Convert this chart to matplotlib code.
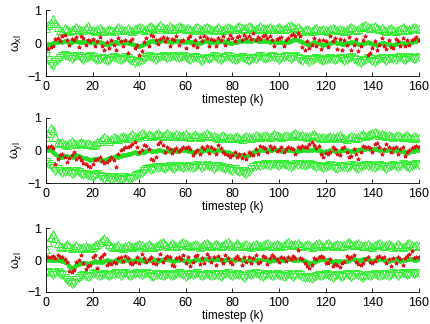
import numpy as np
import matplotlib
matplotlib.use("Agg")
import matplotlib.pyplot as plt

# axis labels and ticks
ylabels = [r"$\omega_{\mathrm{xl}}$", r"$\omega_{\mathrm{yl}}$", r"$\omega_{\mathrm{zl}}$"]
xlabel = "timestep (k)"
xticks = [0, 20, 40, 60, 80, 100, 120, 140, 160]
yticks = [-1, 0, 1]

# ---- x component ----
est_x = [-0.05,-0.04,-0.02,0.00,0.02,0.03,0.05,0.04,0.06,0.05,0.04,0.03,0.05,0.06,0.04,0.03,0.02,0.04,0.05,0.03,
         0.02,0.01,0.03,0.02,0.00,-0.02,-0.04,-0.03,0.00,0.02,0.03,0.01,0.02,0.04,0.03,0.01,0.00,-0.03,-0.06,-0.08,
         -0.10,-0.07,-0.03,0.00,0.03,0.05,0.06,0.04,0.05,0.07,0.08,0.06,0.05,0.04,0.03,0.05,0.06,0.07,0.05,0.04,
         0.03,0.05,0.04,0.02,0.00,-0.01,0.01,0.03,0.05,0.06,0.04,0.03,0.02,0.04,0.03,0.05,0.06,0.04,0.02,0.01,
         0.00,0.02,0.04,0.05,0.06,0.08,0.07,0.05,0.06,0.08,0.09,0.07,0.06,0.05,0.07,0.06,0.04,0.05,0.03,0.02,
         0.04,0.03,0.01,0.02,0.04,0.06,0.09,0.11,0.08,0.05,0.02,-0.01,-0.03,-0.02,0.00,0.02,0.01,-0.01,-0.03,-0.05,
         -0.04,-0.02,0.00,0.02,0.03,0.01,-0.01,-0.03,-0.02,0.00,0.01,0.03,0.02,0.00,-0.02,-0.03,-0.01,0.01,0.02,0.00,
         -0.02,-0.04,-0.05,-0.03,-0.01,0.00,-0.02,-0.04,-0.06,-0.05,-0.03,-0.01,0.01,0.00,-0.02,-0.01,0.01,0.03,0.05,0.06,
         0.08]
meas_x = [-0.15,-0.18,-0.12,-0.10,0.12,0.15,0.05,0.20,0.25,0.10,-0.05,0.12,0.08,0.18,-0.12,0.20,0.15,-0.05,0.10,0.05,
          0.12,-0.08,0.05,0.18,-0.10,-0.22,0.02,-0.15,0.10,-0.05,-0.20,0.15,0.05,-0.10,0.08,-0.30,0.05,0.12,-0.15,-0.05,
          -0.35,-0.25,0.02,0.15,-0.10,0.25,0.20,0.10,-0.02,0.12,0.18,0.05,0.15,-0.08,0.12,0.08,0.20,-0.05,0.05,0.10,
          -0.15,0.15,0.20,-0.05,0.10,-0.12,0.18,0.05,0.22,0.15,-0.10,0.12,0.08,-0.08,0.15,0.10,0.20,-0.05,0.12,0.25,
          0.15,0.05,0.18,0.22,0.10,0.25,0.15,0.20,0.12,0.30,0.08,0.18,0.12,0.22,0.25,0.15,0.20,0.10,-0.10,0.12,
          0.15,0.18,-0.08,0.10,0.15,0.25,0.28,0.22,0.30,0.20,-0.12,-0.20,0.05,-0.15,-0.05,0.15,-0.10,0.08,-0.18,0.10,
          0.05,-0.12,0.20,0.05,0.15,-0.18,0.12,-0.20,0.10,-0.05,0.18,-0.22,-0.05,0.12,-0.25,-0.10,0.08,0.20,-0.35,-0.30,
          -0.15,0.05,-0.20,-0.05,0.15,-0.10,-0.18,0.10,-0.12,-0.15,0.12,0.05,-0.08,0.15,-0.10,0.08,-0.05,0.10,0.12,0.18,
          0.10]
up_x = [0.45,0.55,0.62,0.72,0.60,0.48,0.40,0.38,0.45,0.42,0.38,0.40,0.44,0.50,0.42,0.39,0.41,0.46,0.52,0.44,
        0.40,0.38,0.42,0.47,0.41,0.36,0.39,0.44,0.40,0.37,0.42,0.48,0.43,0.39,0.41,0.45,0.40,0.38,0.42,0.46,
        0.50,0.45,0.40,0.43,0.48,0.52,0.46,0.42,0.50,0.56,0.48,0.44,0.47,0.51,0.45,0.42,0.46,0.53,0.49,0.45,
        0.43,0.47,0.42,0.40,0.45,0.49,0.44,0.41,0.46,0.50,0.45,0.42,0.40,0.44,0.48,0.43,0.41,0.45,0.50,0.46,
        0.42,0.44,0.48,0.53,0.47,0.43,0.46,0.51,0.48,0.44,0.42,0.47,0.52,0.46,0.43,0.45,0.49,0.44,0.42,0.46,
        0.48,0.44,0.42,0.47,0.52,0.56,0.50,0.45,0.48,0.42,0.38,0.40,0.44,0.41,0.38,0.42,0.46,0.41,0.39,0.43,
        0.40,0.38,0.43,0.47,0.42,0.39,0.44,0.40,0.37,0.41,0.46,0.50,0.44,0.40,0.43,0.48,0.53,0.56,0.50,0.45,
        0.48,0.52,0.47,0.43,0.46,0.41,0.38,0.42,0.45,0.40,0.37,0.40,0.44,0.48,0.42,0.39,0.43,0.47,0.50,0.45,
        0.42]
low_x = [-0.40,-0.52,-0.62,-0.68,-0.58,-0.50,-0.44,-0.40,-0.36,-0.39,-0.43,-0.47,-0.42,-0.38,-0.40,-0.45,-0.50,-0.46,-0.41,-0.38,
         -0.42,-0.47,-0.52,-0.48,-0.44,-0.49,-0.55,-0.50,-0.45,-0.41,-0.44,-0.48,-0.52,-0.47,-0.43,-0.46,-0.51,-0.55,-0.60,-0.54,
         -0.56,-0.52,-0.47,-0.43,-0.40,-0.42,-0.46,-0.50,-0.45,-0.41,-0.39,-0.42,-0.46,-0.43,-0.40,-0.38,-0.41,-0.45,-0.42,-0.40,
         -0.43,-0.47,-0.51,-0.46,-0.42,-0.45,-0.50,-0.54,-0.49,-0.45,-0.48,-0.44,-0.40,-0.43,-0.47,-0.51,-0.46,-0.42,-0.39,-0.43,
         -0.47,-0.52,-0.48,-0.44,-0.41,-0.45,-0.49,-0.53,-0.48,-0.44,-0.47,-0.43,-0.40,-0.44,-0.48,-0.45,-0.41,-0.38,-0.42,-0.46,
         -0.50,-0.46,-0.42,-0.39,-0.43,-0.47,-0.43,-0.40,-0.44,-0.49,-0.53,-0.48,-0.52,-0.56,-0.51,-0.47,-0.44,-0.48,-0.52,-0.55,
         -0.51,-0.47,-0.44,-0.48,-0.52,-0.49,-0.45,-0.49,-0.54,-0.50,-0.46,-0.43,-0.47,-0.51,-0.56,-0.60,-0.54,-0.50,-0.46,-0.49,
         -0.53,-0.57,-0.52,-0.48,-0.45,-0.49,-0.53,-0.48,-0.44,-0.47,-0.51,-0.46,-0.43,-0.47,-0.50,-0.46,-0.42,-0.45,-0.48,-0.44,
         -0.42]

# ---- y component ----
est_y = [0.05,0.03,0.00,-0.05,-0.12,-0.18,-0.20,-0.19,-0.17,-0.18,-0.20,-0.19,-0.16,-0.15,-0.17,-0.19,-0.22,-0.24,-0.26,-0.28,
         -0.27,-0.25,-0.26,-0.28,-0.29,-0.30,-0.27,-0.24,-0.22,-0.20,-0.18,-0.19,-0.17,-0.15,-0.13,-0.12,-0.10,-0.08,-0.06,-0.08,
         -0.07,-0.05,-0.04,-0.02,0.00,-0.02,-0.03,-0.01,0.01,0.00,-0.02,-0.04,-0.03,-0.01,0.00,0.01,-0.01,-0.02,0.00,0.01,
         0.00,-0.02,-0.03,-0.05,-0.04,-0.02,0.00,-0.01,0.01,0.03,0.02,0.00,-0.02,-0.01,0.01,0.00,-0.03,-0.05,-0.06,-0.08,
         -0.10,-0.12,-0.14,-0.13,-0.15,-0.17,-0.16,-0.14,-0.10,-0.06,-0.03,-0.01,0.00,0.02,0.03,0.01,0.00,0.02,0.04,0.03,
         0.01,-0.01,0.00,0.02,0.03,0.01,0.00,-0.02,-0.01,0.01,0.02,0.03,0.01,0.00,0.02,0.04,0.03,0.01,-0.02,-0.04,
         -0.03,-0.02,0.00,0.01,-0.01,-0.03,-0.02,0.00,0.02,0.01,-0.01,-0.03,-0.02,0.00,0.02,0.04,0.05,0.06,0.07,0.05,
         0.04,0.06,0.05,0.03,0.01,0.00,0.02,0.03,0.01,-0.01,0.00,0.02,-0.01,-0.03,-0.05,-0.07,-0.05,-0.03,-0.01,0.01,
         0.00]
meas_y = [0.12,0.10,0.15,0.08,-0.40,-0.25,-0.15,-0.10,-0.20,-0.35,-0.22,-0.15,-0.05,-0.25,-0.20,-0.30,-0.38,-0.42,-0.48,-0.52,
          -0.40,-0.30,-0.25,-0.20,-0.32,-0.38,-0.35,-0.28,-0.20,-0.30,-0.50,-0.10,0.00,0.05,0.10,0.12,0.15,0.20,0.25,0.10,
          -0.05,0.02,0.18,0.15,0.05,-0.25,-0.30,-0.20,0.20,0.25,0.18,-0.05,0.10,0.05,-0.08,0.02,0.08,-0.02,0.05,0.10,
          0.08,0.10,0.05,-0.15,-0.05,0.02,-0.10,0.12,0.05,0.15,-0.08,0.10,0.05,-0.10,0.18,0.08,-0.05,-0.12,-0.15,-0.20,
          -0.15,-0.05,-0.20,-0.10,-0.22,-0.10,-0.25,-0.05,-0.12,-0.15,0.05,-0.10,0.15,0.12,0.08,-0.05,0.15,0.05,0.12,-0.02,
          0.02,0.10,-0.05,0.05,0.12,0.08,0.05,-0.12,0.10,0.08,0.15,0.12,0.10,0.20,0.25,0.18,0.08,0.15,-0.12,-0.20,
          -0.08,-0.12,-0.05,0.10,0.05,-0.10,-0.15,0.08,0.12,-0.05,-0.20,-0.18,0.05,-0.10,-0.25,-0.05,0.15,0.10,0.12,0.08,
          -0.05,0.20,0.22,0.10,-0.10,0.05,0.20,0.12,-0.05,0.08,0.10,-0.12,0.05,0.10,-0.18,-0.05,0.00,0.08,0.12,0.15,
          0.10]
up_y = [0.40,0.55,0.70,0.62,0.40,0.25,0.22,0.26,0.20,0.18,0.22,0.28,0.24,0.20,0.23,0.27,0.22,0.19,0.24,0.20,
        0.17,0.21,0.25,0.30,0.36,0.40,0.34,0.30,0.36,0.42,0.38,0.34,0.40,0.46,0.42,0.38,0.44,0.50,0.46,0.42,
        0.48,0.55,0.50,0.46,0.52,0.48,0.44,0.50,0.55,0.49,0.45,0.48,0.53,0.47,0.43,0.46,0.52,0.48,0.44,0.47,
        0.50,0.45,0.42,0.46,0.50,0.44,0.41,0.45,0.49,0.53,0.47,0.43,0.46,0.42,0.39,0.43,0.47,0.42,0.38,0.41,
        0.37,0.40,0.44,0.39,0.36,0.40,0.45,0.41,0.38,0.42,0.47,0.43,0.40,0.44,0.49,0.45,0.42,0.46,0.52,0.47,
        0.43,0.40,0.44,0.48,0.43,0.46,0.50,0.55,0.48,0.44,0.47,0.43,0.40,0.44,0.48,0.52,0.46,0.42,0.39,0.42,
        0.38,0.41,0.45,0.42,0.39,0.43,0.47,0.42,0.38,0.36,0.40,0.44,0.41,0.38,0.42,0.47,0.50,0.45,0.48,0.52,
        0.55,0.58,0.53,0.49,0.52,0.48,0.45,0.49,0.44,0.41,0.45,0.48,0.43,0.40,0.44,0.47,0.42,0.39,0.43,0.40,
        0.38]
low_y = [-0.35,-0.40,-0.48,-0.55,-0.62,-0.58,-0.64,-0.70,-0.66,-0.62,-0.67,-0.72,-0.68,-0.63,-0.67,-0.72,-0.76,-0.71,-0.74,-0.78,
         -0.80,-0.76,-0.72,-0.77,-0.82,-0.86,-0.80,-0.84,-0.90,-0.85,-0.82,-0.87,-0.92,-0.86,-0.82,-0.85,-0.88,-0.83,-0.78,-0.74,
         -0.72,-0.68,-0.63,-0.58,-0.55,-0.60,-0.56,-0.52,-0.55,-0.50,-0.53,-0.57,-0.52,-0.49,-0.53,-0.56,-0.51,-0.48,-0.52,-0.55,
         -0.50,-0.47,-0.51,-0.55,-0.50,-0.46,-0.49,-0.53,-0.48,-0.45,-0.48,-0.52,-0.56,-0.51,-0.47,-0.50,-0.54,-0.58,-0.55,-0.60,
         -0.62,-0.58,-0.63,-0.66,-0.62,-0.68,-0.72,-0.65,-0.58,-0.52,-0.48,-0.45,-0.49,-0.44,-0.41,-0.45,-0.48,-0.43,-0.40,-0.44,
         -0.47,-0.43,-0.40,-0.44,-0.48,-0.52,-0.47,-0.43,-0.46,-0.42,-0.45,-0.49,-0.44,-0.41,-0.45,-0.48,-0.52,-0.47,-0.50,-0.55,
         -0.52,-0.48,-0.45,-0.49,-0.53,-0.58,-0.52,-0.48,-0.51,-0.55,-0.50,-0.46,-0.49,-0.53,-0.58,-0.52,-0.48,-0.45,-0.49,-0.46,
         -0.50,-0.54,-0.49,-0.45,-0.48,-0.52,-0.56,-0.50,-0.47,-0.44,-0.48,-0.52,-0.47,-0.43,-0.46,-0.50,-0.54,-0.48,-0.45,-0.42,
         -0.46]

# ---- z component ----
est_z = [0.02,0.01,0.00,-0.01,0.00,0.01,0.00,-0.02,-0.05,-0.10,-0.18,-0.25,-0.22,-0.16,-0.12,-0.10,-0.08,-0.10,-0.12,-0.09,
         -0.06,-0.04,-0.05,-0.07,-0.05,-0.03,-0.01,-0.02,-0.04,-0.03,-0.01,0.00,-0.02,-0.03,-0.01,0.01,0.00,-0.02,-0.01,0.01,
         0.02,0.00,-0.02,-0.03,-0.01,0.01,0.02,0.00,-0.02,-0.01,0.01,0.03,0.02,0.00,-0.02,-0.03,-0.01,0.01,0.02,0.00,
         -0.02,-0.03,-0.04,-0.02,0.00,0.02,0.01,0.03,0.04,0.02,0.00,0.01,0.03,0.04,0.02,0.00,-0.01,0.01,0.02,0.00,
         -0.01,0.00,0.02,0.03,0.01,0.00,-0.02,-0.01,0.01,0.02,0.00,-0.01,0.01,0.03,0.02,0.00,-0.02,-0.01,0.01,0.00,
         0.02,0.01,-0.01,0.00,0.02,0.03,0.01,-0.01,0.00,0.02,0.01,-0.03,-0.07,-0.10,-0.08,-0.05,-0.02,0.00,0.02,0.03,
         0.01,-0.01,-0.03,-0.05,-0.04,-0.02,-0.04,-0.06,-0.04,-0.02,0.00,0.02,0.03,0.01,-0.01,0.01,0.03,0.04,0.02,0.00,
         -0.02,-0.01,0.01,0.03,0.02,0.00,-0.02,-0.03,-0.01,0.01,0.02,0.00,-0.02,-0.01,0.01,0.03,0.04,0.02,0.00,0.01,
         0.02]
meas_z = [0.12,0.10,0.08,0.12,0.05,0.15,0.08,0.10,0.02,-0.05,-0.35,-0.38,-0.30,-0.05,0.00,0.15,-0.10,-0.28,-0.20,-0.15,
          0.10,0.15,-0.25,0.05,0.12,0.18,-0.15,-0.08,-0.12,-0.05,-0.10,0.05,0.08,-0.02,0.12,0.05,-0.10,-0.12,-0.05,0.10,
          -0.08,0.18,0.05,-0.05,0.02,0.08,-0.10,-0.12,0.02,0.18,-0.05,0.05,0.12,0.08,-0.15,-0.20,0.05,0.10,0.02,0.15,
          -0.10,0.10,-0.20,-0.05,0.12,0.15,-0.12,0.05,-0.08,0.20,0.10,-0.05,0.08,-0.15,0.12,0.02,-0.08,0.15,0.05,-0.05,
          -0.12,0.05,0.12,0.02,-0.15,0.08,-0.05,0.10,-0.08,0.05,0.15,-0.10,-0.05,0.12,0.08,-0.12,0.05,0.15,0.10,0.02,
          -0.05,0.10,0.05,-0.02,0.08,0.02,0.12,0.05,0.30,0.05,0.02,-0.08,-0.18,-0.25,-0.15,0.05,0.02,0.10,0.12,0.08,
          -0.10,-0.08,0.02,-0.20,-0.12,-0.15,-0.22,-0.10,-0.05,0.12,0.05,0.10,0.15,-0.05,-0.12,-0.15,-0.10,0.02,0.08,-0.05,
          -0.10,-0.02,0.10,0.12,0.05,0.08,-0.10,0.02,-0.18,0.05,-0.08,0.10,0.02,-0.15,0.05,0.12,0.20,0.28,0.05,0.08,
          0.10]
up_z = [0.35,0.55,0.72,0.82,0.68,0.52,0.44,0.40,0.45,0.50,0.44,0.38,0.41,0.46,0.42,0.38,0.41,0.45,0.40,0.37,
        0.41,0.46,0.51,0.56,0.62,0.68,0.58,0.50,0.44,0.40,0.43,0.47,0.42,0.39,0.43,0.48,0.44,0.40,0.43,0.47,
        0.51,0.46,0.42,0.45,0.49,0.44,0.40,0.43,0.47,0.52,0.56,0.50,0.45,0.48,0.53,0.48,0.44,0.47,0.52,0.57,
        0.50,0.46,0.43,0.47,0.51,0.46,0.42,0.45,0.49,0.53,0.48,0.44,0.47,0.51,0.46,0.43,0.47,0.52,0.57,0.50,
        0.45,0.48,0.52,0.47,0.43,0.46,0.50,0.45,0.42,0.46,0.51,0.47,0.43,0.46,0.50,0.54,0.48,0.44,0.47,0.51,
        0.46,0.43,0.47,0.52,0.56,0.50,0.46,0.49,0.53,0.48,0.44,0.47,0.51,0.46,0.42,0.45,0.49,0.53,0.48,0.45,
        0.49,0.54,0.48,0.44,0.47,0.51,0.46,0.43,0.47,0.52,0.56,0.50,0.46,0.49,0.53,0.47,0.43,0.46,0.50,0.45,
        0.42,0.46,0.50,0.54,0.48,0.44,0.47,0.51,0.46,0.42,0.45,0.49,0.44,0.41,0.45,0.49,0.53,0.48,0.44,0.46,
        0.43]
low_z = [-0.40,-0.38,-0.42,-0.46,-0.42,-0.39,-0.43,-0.48,-0.55,-0.62,-0.70,-0.76,-0.72,-0.62,-0.55,-0.50,-0.46,-0.50,-0.54,-0.49,
         -0.45,-0.42,-0.46,-0.50,-0.46,-0.43,-0.47,-0.51,-0.47,-0.44,-0.41,-0.45,-0.49,-0.45,-0.42,-0.46,-0.50,-0.46,-0.43,-0.40,
         -0.44,-0.48,-0.44,-0.41,-0.45,-0.49,-0.53,-0.48,-0.44,-0.47,-0.51,-0.46,-0.43,-0.46,-0.50,-0.47,-0.43,-0.40,-0.44,-0.48,
         -0.52,-0.47,-0.44,-0.48,-0.45,-0.42,-0.46,-0.50,-0.46,-0.43,-0.46,-0.51,-0.47,-0.44,-0.47,-0.52,-0.48,-0.45,-0.42,-0.46,
         -0.50,-0.46,-0.43,-0.47,-0.51,-0.55,-0.49,-0.45,-0.48,-0.44,-0.41,-0.45,-0.49,-0.53,-0.48,-0.44,-0.47,-0.50,-0.46,-0.43,
         -0.46,-0.50,-0.54,-0.49,-0.45,-0.48,-0.52,-0.47,-0.44,-0.48,-0.53,-0.57,-0.52,-0.56,-0.60,-0.54,-0.50,-0.47,-0.51,-0.48,
         -0.44,-0.47,-0.51,-0.55,-0.50,-0.46,-0.49,-0.53,-0.48,-0.45,-0.48,-0.52,-0.47,-0.44,-0.48,-0.52,-0.56,-0.51,-0.47,-0.50,
         -0.46,-0.43,-0.47,-0.51,-0.46,-0.43,-0.47,-0.50,-0.46,-0.42,-0.45,-0.49,-0.45,-0.41,-0.44,-0.48,-0.44,-0.41,-0.45,-0.42,
         -0.40]

estimates = [est_x, est_y, est_z]
measured = [meas_x, meas_y, meas_z]
uppers = [up_x, up_y, up_z]
lowers = [low_x, low_y, low_z]

plt.rcParams['font.family'] = ['Liberation Sans', 'DejaVu Sans']
plt.rcParams['mathtext.fontset'] = 'custom'
plt.rcParams['mathtext.rm'] = 'Liberation Sans'
plt.rcParams['mathtext.it'] = 'Liberation Sans'

green = '#33ee33'
fig = plt.figure(figsize=(4.30, 3.24), dpi=100)
# axes boxes in figure fractions (left, bottom, width, height)
boxes = [(0.107, 0.765, 0.867, 0.204),
         (0.107, 0.435, 0.867, 0.201),
         (0.107, 0.099, 0.867, 0.197)]

for i in range(3):
    ax = fig.add_axes(boxes[i])
    ax.plot(np.arange(len(uppers[i])), uppers[i], '^', color=green,
            mfc='none', mec=green, ms=6, mew=0.7)
    ax.plot(np.arange(len(lowers[i])), lowers[i], 'v', color=green,
            mfc='none', mec=green, ms=6, mew=0.7)
    ax.plot(np.arange(len(estimates[i])), estimates[i], '.-', color='#22dd22',
            ms=5, lw=1.5)
    ax.plot(np.arange(len(measured[i])), measured[i], '*', color='#dd1111',
            ms=3, mew=0.6)
    ax.set_xlim(0, 160)
    ax.set_ylim(-1, 1)
    ax.set_xticks(xticks)
    ax.set_yticks(yticks)
    ax.tick_params(direction='in', length=3, labelsize=9, width=0.6)
    for s in ['top', 'right']:
        ax.spines[s].set_visible(False)
    for s in ['left', 'bottom']:
        ax.spines[s].set_linewidth(0.6)
    ax.set_ylabel(ylabels[i], fontsize=9, labelpad=2)
    ax.set_xlabel(xlabel, fontsize=8.5, labelpad=1)

plt.savefig('out.png', dpi=100)
